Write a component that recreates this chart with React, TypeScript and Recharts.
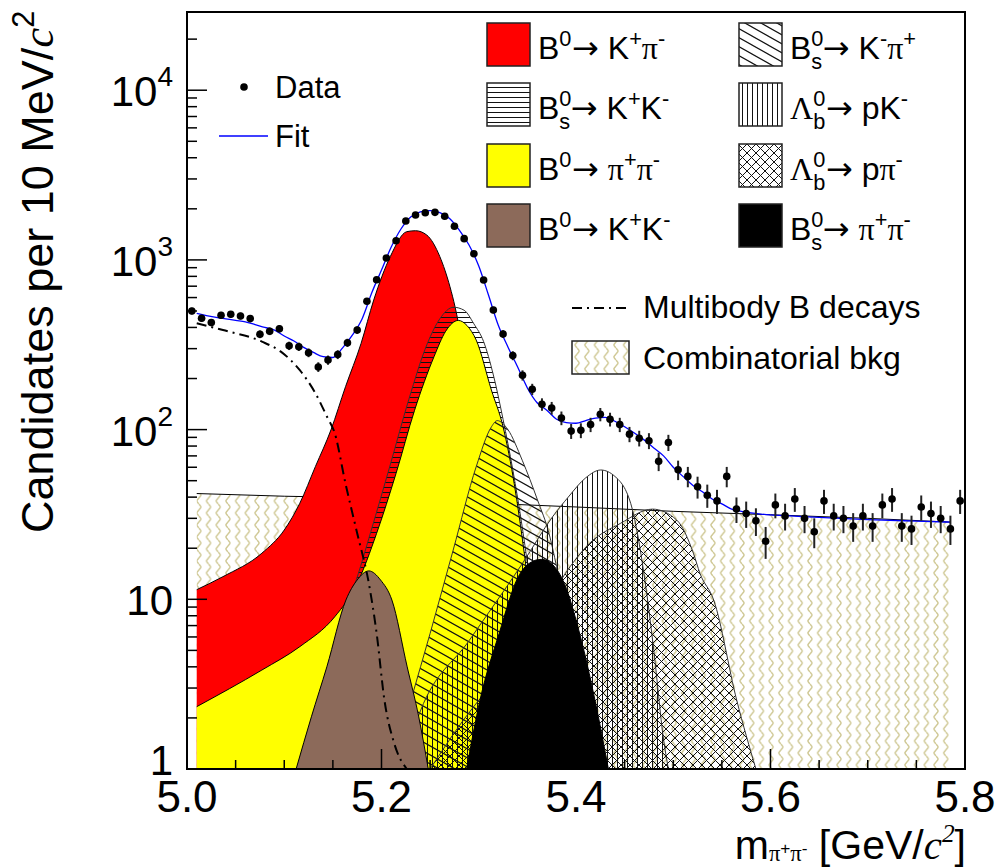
import React from "react";
import { ComposedChart, Area, Line, Scatter, XAxis, YAxis, ErrorBar } from "recharts";

const SANS = "'Liberation Sans', Arial, Helvetica, sans-serif";
const SERIF = "'Liberation Serif', 'Times New Roman', serif";
const ARROWF = "'DejaVu Sans', sans-serif";

// 10 MeV bins, 5.0 - 5.8 GeV
const binCenters = [
  5.005, 5.015, 5.025, 5.035, 5.045, 5.055, 5.065, 5.075, 5.085, 5.095,
  5.105, 5.115, 5.125, 5.135, 5.145, 5.155, 5.165, 5.175, 5.185, 5.195,
  5.205, 5.215, 5.225, 5.235, 5.245, 5.255, 5.265, 5.275, 5.285, 5.295,
  5.305, 5.315, 5.325, 5.335, 5.345, 5.355, 5.365, 5.375, 5.385, 5.395,
  5.405, 5.415, 5.425, 5.435, 5.445, 5.455, 5.465, 5.475, 5.485, 5.495,
  5.505, 5.515, 5.525, 5.535, 5.545, 5.555, 5.565, 5.575, 5.585, 5.595,
  5.605, 5.615, 5.625, 5.635, 5.645, 5.655, 5.665, 5.675, 5.685, 5.695,
  5.705, 5.715, 5.725, 5.735, 5.745, 5.755, 5.765, 5.775, 5.785, 5.795,
];
const candidates = [
  500, 453, 428, 472, 478, 467, 451, 365, 380, 393,
  312, 308, 284, 234, 257, 277, 325, 386, 571, 764,
  1026, 1298, 1695, 1840, 1897, 1906, 1807, 1578, 1334, 1088,
  762, 507, 366, 273, 209, 173, 141, 134, 117, 98,
  99, 107, 123, 115, 107, 94, 89, 86, 65, 84,
  58, 53, 46, 41, 38, 53, 34, 32, 29, 22,
  36, 31, 39, 30, 25, 38, 31, 30, 27, 31,
  27, 36, 39, 27, 26, 35, 32, 30, 26, 38,
];

// fit components: [mass, candidates per bin]
const fitTotal = [
  [5.01, 484], [5.02, 470], [5.03, 458], [5.04, 449], [5.05, 440], [5.06, 432], [5.07, 416], [5.08, 400],
  [5.09, 386], [5.1, 356], [5.11, 333], [5.12, 305], [5.13, 285], [5.14, 269], [5.15, 266], [5.16, 303],
  [5.17, 360], [5.18, 449], [5.19, 640], [5.2, 872], [5.21, 1191], [5.22, 1521], [5.23, 1791], [5.24, 1916],
  [5.25, 1954], [5.26, 1902], [5.27, 1754], [5.28, 1500], [5.29, 1224], [5.3, 920], [5.31, 621], [5.32, 413],
  [5.33, 307], [5.34, 234], [5.35, 176], [5.36, 144], [5.37, 130], [5.38, 115], [5.39, 110], [5.4, 109],
  [5.41, 113], [5.42, 117], [5.43, 118], [5.44, 112], [5.45, 104], [5.46, 95.5], [5.47, 87], [5.48, 78],
  [5.49, 70], [5.5, 60], [5.51, 53], [5.52, 47], [5.53, 43], [5.54, 39], [5.55, 36.5], [5.56, 34],
  [5.57, 33], [5.58, 32.3], [5.59, 31.8], [5.6, 31.4], [5.62, 31], [5.65, 30.4], [5.7, 29.5], [5.75, 28.9],
  [5.785, 28.5],
];
const combinatorial = [
  [5.01, 42], [5.1, 40.5], [5.2, 39.5], [5.3, 37], [5.4, 35], [5.5, 33], [5.6, 31.5], [5.7, 30], [5.785, 28.5],
];
const multibody = [
  [5.01, 423], [5.037, 386], [5.077, 330], [5.0965, 288], [5.116, 224], [5.132, 164], [5.144, 119],
  [5.152, 95], [5.163, 48], [5.175, 24.5], [5.187, 12.4], [5.195, 6.3], [5.203, 2.55], [5.213, 1.42], [5.226, 1],
];
const bdKpi = [
  [5.01, 11.4], [5.037, 13.6], [5.077, 18.7], [5.1, 25.6], [5.116, 36.8], [5.132, 60.5], [5.148, 99.5],
  [5.163, 179], [5.179, 322], [5.192, 580], [5.209, 1045], [5.226, 1467], [5.235, 1486], [5.2465, 1402],
  [5.26, 1045], [5.2704, 695], [5.2756, 530], [5.29, 180], [5.3, 78], [5.31, 30], [5.32, 10], [5.33, 3], [5.34, 1],
];
const bsKK = [
  [5.13, 3], [5.155, 7], [5.172, 12], [5.189, 25], [5.209, 62], [5.228, 150], [5.247, 320], [5.26, 450],
  [5.274, 526], [5.285, 505], [5.295, 420], [5.305, 330], [5.315, 210], [5.325, 115], [5.335, 58],
  [5.345, 26], [5.355, 10], [5.365, 3.5], [5.375, 1],
];
const bdPiPi = [
  [5.01, 2.33], [5.077, 3.83], [5.116, 5.26], [5.152, 7.9], [5.175, 12.4], [5.195, 24.5], [5.215, 55.3],
  [5.234, 130], [5.254, 269], [5.266, 380], [5.279, 440], [5.288, 410], [5.2974, 337], [5.313, 171],
  [5.325, 104], [5.337, 46], [5.345, 22.4], [5.355, 8], [5.365, 3], [5.375, 1],
];
const bsKpi = [
  [5.21, 1], [5.2303, 2.55], [5.25, 6.3], [5.2737, 19.5], [5.2974, 60.5], [5.3131, 104], [5.319, 113],
  [5.33, 100], [5.3447, 66], [5.3604, 38.5], [5.3722, 24.5], [5.38, 15.6], [5.39, 7.8], [5.4, 3.5],
  [5.41, 1.4], [5.415, 1],
];
const lbPK = [
  [5.22, 1], [5.24, 2.2], [5.29, 5.7], [5.345, 16.3], [5.376, 30.7], [5.392, 40], [5.41, 52], [5.4254, 57.8],
  [5.44, 53], [5.4573, 35], [5.47, 14], [5.48, 5], [5.49, 1.5], [5.495, 1],
];
const lbPPi = [
  [5.25, 1], [5.2737, 1.6], [5.3525, 6.3], [5.394, 15.6], [5.414, 21.4], [5.4456, 28], [5.4786, 34],
  [5.5036, 29.3], [5.5207, 18.7], [5.5275, 14.2], [5.5416, 9.9], [5.5652, 2.55], [5.585, 1],
];
const bsPiPi = [
  [5.2875, 1], [5.3013, 2.55], [5.321, 6.3], [5.3407, 13.6], [5.352, 16.3], [5.3643, 17.2], [5.376, 16],
  [5.388, 12.4], [5.4037, 6.3], [5.4195, 2.55], [5.4333, 1],
];
const bdKK = [
  [5.1122, 1], [5.1279, 2.03], [5.1438, 4.0], [5.1634, 9.9], [5.175, 13], [5.187, 14.7], [5.199, 13],
  [5.2107, 9.9], [5.2264, 4.0], [5.2383, 2.03], [5.2481, 1],
];

const xTicks = [5.0, 5.05, 5.1, 5.15, 5.2, 5.25, 5.3, 5.35, 5.4, 5.45, 5.5, 5.55, 5.6, 5.65, 5.7, 5.75, 5.8];
const yTicks = [
  1, 2, 3, 4, 5, 6, 7, 8, 9, 10, 20, 30, 40, 50, 60, 70, 80, 90, 100, 200, 300, 400, 500, 600, 700, 800, 900,
  1000, 2000, 3000, 4000, 5000, 6000, 7000, 8000, 9000, 10000, 20000,
];
const yLabels: Record<number, [string, string]> = {
  1: ["1", ""], 10: ["10", ""], 100: ["10", "2"], 1000: ["10", "3"], 10000: ["10", "4"],
};

const curves: Record<string, number[][]> = {
  bkg: combinatorial, red: bdKpi, kk: bsKK, yellow: bdPiPi, kpi: bsKpi, pk: lbPK,
  ppi: lbPPi, bspp: bsPiPi, bdkk: bdKK, multi: multibody, fit: fitTotal,
};

function buildTable() {
  const rows = new Map<number, any>();
  Object.entries(curves).forEach(([key, pts]) => {
    pts.forEach(([m, v]) => {
      const k = Math.round(m * 10000) / 10000;
      if (!rows.has(k)) rows.set(k, { m: k });
      rows.get(k)[key] = v;
    });
  });
  return Array.from(rows.values()).sort((a, b) => a.m - b.m);
}
const table = buildTable();
const points = binCenters.map((m, i) => ({ m, n: candidates[i], err: Math.sqrt(candidates[i]) }));

const YTick = ({ x, y, payload }: any) => {
  const lab = yLabels[payload.value];
  return (
    <g>
      <line x1={x} x2={x + (lab ? 20 : 10)} y1={y} y2={y} stroke="#000" strokeWidth={1.5} />
      {lab && (
        <text x={x - 14} y={y + (payload.value === 1 ? 6 : 16)} textAnchor="end" fontSize={42} fontFamily={SANS} fill="#000">
          {lab[0]}
          {lab[1] && <tspan dy={-20} fontSize={28}>{lab[1]}</tspan>}
        </text>
      )}
    </g>
  );
};

const XTick = ({ x, y, payload }: any) => {
  const v = payload.value;
  const major = Math.abs(v * 5 - Math.round(v * 5)) < 1e-6;
  return (
    <g>
      <line x1={x} x2={x} y1={y} y2={y - (major ? 20 : 9)} stroke="#000" strokeWidth={1.5} />
      {major && (
        <text x={x} y={y + 43} textAnchor="middle" fontSize={44} fontFamily={SANS} fill="#000">
          {v.toFixed(1)}
        </text>
      )}
    </g>
  );
};

type Part = { t: string; up?: number; size?: number; font?: string; italic?: boolean; dx?: number };

function Rich({ x, y, size, parts, anchor = "start", transform }: any) {
  let cur = 0;
  return (
    <text x={x} y={y} fontSize={size} fontFamily={SANS} textAnchor={anchor} transform={transform} fill="#000">
      {parts.map((p: Part, i: number) => {
        const up = p.up ?? 0;
        const dy = (cur - up) * size;
        cur = up;
        return (
          <tspan
            key={i}
            dy={dy}
            dx={p.dx ? p.dx * size : undefined}
            fontSize={(p.size ?? 1) * size}
            fontFamily={p.font}
            fontStyle={p.italic ? "italic" : undefined}
          >
            {p.t}
          </tspan>
        );
      })}
    </text>
  );
}

const sup = (t: string): Part => ({ t, up: 0.42, size: 0.68 });
const pi: Part = { t: "π", font: SERIF };
const stacked = (lo: string): Part[] => [
  { t: "0", up: 0.42, size: 0.68 },
  { t: lo, up: -0.3, size: 0.68, dx: -0.378 },
];
const arrow: Part = { t: "→", font: ARROWF, dx: 0.02 };

const signalLegend: { fill: string; col: number; row: number; parts: Part[] }[] = [
  { fill: "#ff0000", col: 0, row: 0, parts: [{ t: "B" }, sup("0"), arrow, { t: " K" }, sup("+"), pi, sup("-")] },
  { fill: "url(#hatchH)", col: 0, row: 1, parts: [{ t: "B" }, ...stacked("s"), arrow, { t: " K" }, sup("+"), { t: "K" }, sup("-")] },
  { fill: "#ffff00", col: 0, row: 2, parts: [{ t: "B" }, sup("0"), arrow, { t: " " }, pi, sup("+"), pi, sup("-")] },
  { fill: "#8c6a5a", col: 0, row: 3, parts: [{ t: "B" }, sup("0"), arrow, { t: " K" }, sup("+"), { t: "K" }, sup("-")] },
  { fill: "url(#hatchD)", col: 1, row: 0, parts: [{ t: "B" }, ...stacked("s"), arrow, { t: " K" }, sup("-"), pi, sup("+")] },
  { fill: "url(#hatchV)", col: 1, row: 1, parts: [{ t: "Λ", font: SERIF }, ...stacked("b"), arrow, { t: " pK" }, sup("-")] },
  { fill: "url(#hatchX)", col: 1, row: 2, parts: [{ t: "Λ", font: SERIF }, ...stacked("b"), arrow, { t: " p" }, pi, sup("-")] },
  { fill: "#000000", col: 1, row: 3, parts: [{ t: "B" }, ...stacked("s"), arrow, { t: " " }, pi, sup("+"), pi, sup("-")] },
];
const legendCols = [487, 739];
const legendRows = [23, 83, 144, 204];

export default function App() {
  return (
    <div style={{ position: "absolute", left: 0, top: 0, width: 995, height: 868, background: "#fff", overflow: "hidden" }}>
      <div style={{ position: "absolute", left: 0, top: 0 }}>
        <ComposedChart width={995} height={868} data={table} margin={{ top: 12, right: 30, bottom: 98, left: 186 }}>
          <XAxis
            dataKey="m"
            type="number"
            domain={[5.0, 5.8]}
            allowDataOverflow
            ticks={xTicks}
            interval={0}
            height={1}
            tickSize={0}
            tickMargin={0}
            axisLine={false}
            tickLine={false}
            tick={XTick}
          />
          <YAxis
            type="number"
            scale="log"
            domain={[1, 28900]}
            allowDataOverflow
            ticks={yTicks}
            interval={0}
            width={1}
            tickSize={0}
            tickMargin={0}
            axisLine={false}
            tickLine={false}
            tick={YTick}
          />
          <Area type="linear" dataKey="bkg" baseValue={1} connectNulls fill="url(#wavy)" fillOpacity={1} stroke="#000" strokeWidth={1} isAnimationActive={false} />
          <Area type="monotone" dataKey="red" baseValue={1} connectNulls fill="#ff0000" fillOpacity={1} stroke="#000" strokeWidth={1} isAnimationActive={false} />
          <Area type="monotone" dataKey="kk" baseValue={1} connectNulls fill="url(#hatchH)" fillOpacity={1} stroke="#333" strokeWidth={1} isAnimationActive={false} />
          <Area type="monotone" dataKey="yellow" baseValue={1} connectNulls fill="#ffff00" fillOpacity={1} stroke="#000" strokeWidth={1} isAnimationActive={false} />
          <Area type="monotone" dataKey="kpi" baseValue={1} connectNulls fill="url(#hatchD)" fillOpacity={1} stroke="#333" strokeWidth={1} isAnimationActive={false} />
          <Area type="monotone" dataKey="pk" baseValue={1} connectNulls fill="url(#hatchV)" fillOpacity={1} stroke="#333" strokeWidth={1} isAnimationActive={false} />
          <Area type="monotone" dataKey="ppi" baseValue={1} connectNulls fill="url(#hatchX)" fillOpacity={1} stroke="#333" strokeWidth={1} isAnimationActive={false} />
          <Area type="monotone" dataKey="bspp" baseValue={1} connectNulls fill="#000" fillOpacity={1} stroke="#000" strokeWidth={1} isAnimationActive={false} />
          <Area type="monotone" dataKey="bdkk" baseValue={1} connectNulls fill="#8c6a5a" fillOpacity={1} stroke="#000" strokeWidth={1} isAnimationActive={false} />
          <Line type="monotone" dataKey="multi" connectNulls stroke="#000" strokeWidth={2} strokeDasharray="10 5 2 5" dot={false} activeDot={false} isAnimationActive={false} />
          <Line type="monotone" dataKey="fit" connectNulls stroke="#0000ff" strokeWidth={1.3} dot={false} activeDot={false} isAnimationActive={false} />
          <Scatter
            data={points}
            dataKey="n"
            isAnimationActive={false}
            shape={(p: any) => <circle cx={p.cx} cy={p.cy} r={3.8} fill="#000" />}
          >
            <ErrorBar dataKey="err" direction="y" width={0} stroke="#222" strokeWidth={2} isAnimationActive={false} />
          </Scatter>
        </ComposedChart>
      </div>

      <svg width={995} height={868} style={{ position: "absolute", left: 0, top: 0, pointerEvents: "none" }}>
        <defs>
          <pattern id="hatchH" width="8" height="5" patternUnits="userSpaceOnUse">
            <line x1="0" y1="2.5" x2="8" y2="2.5" stroke="#111" strokeWidth="1" />
          </pattern>
          <pattern id="hatchV" width="5" height="8" patternUnits="userSpaceOnUse">
            <line x1="2.5" y1="0" x2="2.5" y2="8" stroke="#111" strokeWidth="1" />
          </pattern>
          <pattern id="hatchD" width="16" height="9" patternUnits="userSpaceOnUse">
            <path d="M-16,-9 L32,18 M-16,-18 L32,9 M-16,0 L32,27" stroke="#111" strokeWidth="1.2" fill="none" />
          </pattern>
          <pattern id="hatchX" width="9" height="9" patternUnits="userSpaceOnUse">
            <path d="M-1,-1 L10,10 M10,-1 L-1,10" stroke="#111" strokeWidth="1" fill="none" />
          </pattern>
          <pattern id="wavy" width="9.7" height="12" patternUnits="userSpaceOnUse">
            <path d="M4.85,0 C7.6,3 7.6,3 4.85,6 C2.1,9 2.1,9 4.85,12" fill="none" stroke="#cfc894" strokeWidth="1.4" />
          </pattern>
        </defs>

        {/* frame */}
        <rect x={187} y={12} width={778} height={757} fill="none" stroke="#000" strokeWidth={2} />

        {/* data / fit legend */}
        <circle cx={244} cy={87} r={3.8} fill="#000" />
        <text x={275} y={98} fontSize={31} fontFamily={SANS}>Data</text>
        <line x1={219} x2={268} y1={136} y2={136} stroke="#0000ff" strokeWidth={1.3} />
        <text x={275} y={147} fontSize={31} fontFamily={SANS}>Fit</text>

        {/* signal legend */}
        {signalLegend.map((e, i) => {
          const bx = legendCols[e.col];
          const by = legendRows[e.row];
          return (
            <g key={i}>
              <rect x={bx} y={by} width={43} height={43} fill="#fff" stroke="none" />
              <rect x={bx} y={by} width={43} height={43} fill={e.fill} stroke="#222" strokeWidth={1.5} />
              <Rich x={bx + 51} y={by + 36} size={32} parts={e.parts} />
            </g>
          );
        })}

        <line x1={572} x2={630} y1={308} y2={308} stroke="#000" strokeWidth={2} strokeDasharray="10 5 2 5" />
        <text x={643} y={318} fontSize={32} fontFamily={SANS}>Multibody B decays</text>
        <rect x={572} y={341} width={57} height={33} fill="url(#wavy)" stroke="#222" strokeWidth={1.5} />
        <text x={643} y={369} fontSize={32} fontFamily={SANS}>Combinatorial bkg</text>

        {/* axis titles */}
        <Rich
          x={53}
          y={533}
          size={45}
          transform="rotate(-90 53 533)"
          parts={[{ t: "Candidates per 10 MeV/" }, { t: "c", font: SERIF, italic: true }, { t: "2", up: 0.42, size: 0.68 }]}
        />
        <Rich
          x={966}
          y={859}
          size={41}
          anchor="end"
          parts={[
            { t: "m" },
            { t: "π", up: -0.06, size: 0.55, font: SERIF },
            { t: "+", up: 0.12, size: 0.42 },
            { t: "π", up: -0.06, size: 0.55, font: SERIF },
            { t: "-", up: 0.12, size: 0.42 },
            { t: " [GeV/", up: 0 },
            { t: "c", font: SERIF, italic: true },
            { t: "2", up: 0.42, size: 0.62, font: SERIF, italic: true },
            { t: "]", up: 0 },
          ]}
        />
      </svg>
    </div>
  );
}
